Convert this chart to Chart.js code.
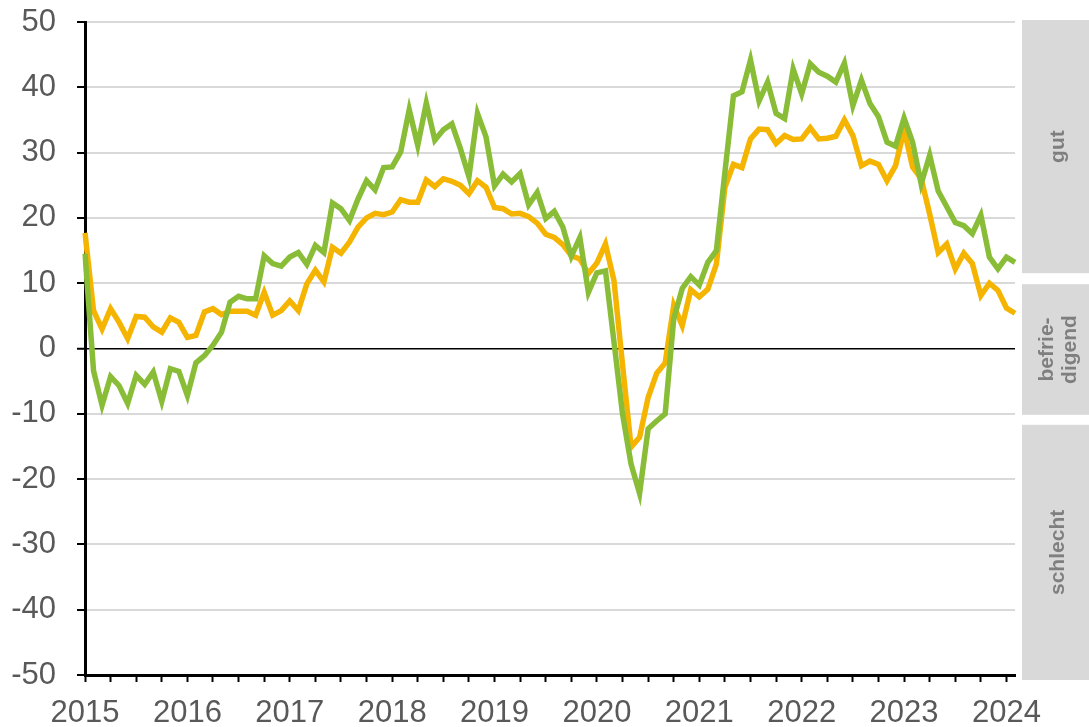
<!DOCTYPE html>
<html>
<head>
<meta charset="utf-8">
<script src="https://cdn.jsdelivr.net/npm/chart.js@4.4.1/dist/chart.umd.min.js"></script>
<style>
  body { margin: 0; background: #fff; }
  #wrap { width: 1089px; height: 727px; position: relative; }
</style>
</head>
<body>
<div id="wrap"><canvas id="myChart"></canvas></div>
<script>
// monthly values Jan 2015 - Feb 2024
var yearLabels = ['2015', '2016', '2017', '2018', '2019', '2020', '2021', '2022', '2023', '2024'];

var orangeData = [
  17.7, 5.8, 3.0, 6.1, 4.0, 1.5, 4.9, 4.8, 3.3, 2.5, 4.7, 4.0,
  1.7, 2.0, 5.6, 6.1, 5.2, 5.7, 5.7, 5.7, 5.1, 8.6, 5.1, 5.8,
  7.3, 5.8, 9.9, 12.0, 10.2, 15.5, 14.6, 16.3, 18.6, 20.0, 20.7, 20.5,
  20.9, 22.8, 22.4, 22.4, 25.8, 24.8, 26.0, 25.6, 25.0, 23.7, 25.7, 24.7,
  21.6, 21.4, 20.6, 20.7, 20.2, 19.2, 17.5, 17.0, 15.9, 14.2, 13.7, 11.5,
  13.1, 16.0, 10.4, -2.5, -15.1, -13.6, -7.5, -3.8, -2.2, 6.6, 3.5, 9.0,
  7.9, 9.1, 12.9, 24.7, 28.2, 27.7, 32.1, 33.6, 33.5, 31.4, 32.6, 32.0,
  32.1, 33.8, 32.1, 32.2, 32.5, 35.0, 32.6, 28.0, 28.7, 28.2, 25.7, 28.0,
  33.5, 27.8, 26.0, 20.6, 14.7, 16.0, 12.2, 14.6, 13.0, 8.1, 10.0, 8.9,
  6.2, 5.4
];

var greenData = [
  14.5, -3.4, -8.7, -4.3, -5.7, -8.4, -4.1, -5.5, -3.6, -8.1, -3.1, -3.5,
  -7.2, -2.2, -1.1, 0.5, 2.5, 7.1, 8.0, 7.6, 7.6, 14.2, 13.0, 12.6,
  14.0, 14.7, 12.9, 15.8, 14.7, 22.3, 21.4, 19.6, 22.9, 25.7, 24.3, 27.7,
  27.8, 30.1, 36.6, 31.1, 37.6, 31.9, 33.5, 34.4, 30.6, 26.3, 36.0, 32.4,
  24.9, 26.7, 25.5, 26.8, 22.0, 23.9, 19.9, 21.0, 18.6, 14.1, 17.0, 8.6,
  11.6, 11.9, 1.0, -10.0, -17.7, -22.2, -12.3, -11.1, -10.0, 4.5, 9.2, 11.0,
  9.7, 13.2, 15.0, 27.0, 38.7, 39.3, 44.2, 37.9, 40.8, 36.0, 35.2, 42.8,
  39.0, 43.6, 42.3, 41.7, 40.8, 43.7, 37.2, 41.1, 37.5, 35.5, 31.6, 31.0,
  35.3, 31.6, 25.2, 29.6, 24.1, 21.7, 19.3, 18.8, 17.6, 20.4, 14.0, 12.2,
  14.0, 13.2
];

var bandLabels = [['gut'], ['befrie-', 'digend'], ['schlecht']];
var bandFrom = [10, -10, -50];
var bandTo = [50, 10, -10];

var monthLabels = [];
yearLabels.forEach(function (yr) {
  for (var m = 1; m <= 12; m++) {
    if (monthLabels.length < greenData.length) {
      monthLabels.push(yr + '-' + (m < 10 ? '0' + m : m));
    }
  }
});

var fontName = '"Liberation Sans", Arial, sans-serif';

// grey boxes with the ratings on the right side
var bandPlugin = {
  id: 'bands',
  afterDraw: function (chart) {
    var c = chart.ctx;
    var ys = chart.scales.y;
    var x0 = chart.chartArea.right + 7;
    var x1 = chart.width;
    var tops = [ys.getPixelForValue(bandTo[0]) - 2, ys.getPixelForValue(bandTo[1]) + 1, ys.getPixelForValue(bandTo[2]) + 11];
    var bottoms = [ys.getPixelForValue(bandFrom[0]) - 10, ys.getPixelForValue(bandFrom[1]) + 1, ys.getPixelForValue(bandFrom[2]) + 5];
    c.save();
    for (var i = 0; i < bandLabels.length; i++) {
      c.fillStyle = '#d9d9d9';
      c.fillRect(x0, tops[i], x1 - x0, bottoms[i] - tops[i]);
      var cx = (x0 + x1) / 2 + 3;
      var cy = (tops[i] + bottoms[i]) / 2;
      c.save();
      c.translate(cx, cy);
      c.rotate(-Math.PI / 2);
      c.fillStyle = '#7f7f7f';
      c.font = 'bold 21px ' + fontName;
      c.textAlign = 'center';
      c.textBaseline = 'middle';
      var lines = bandLabels[i];
      var lh = 23;
      lines.forEach(function (t, k) {
        c.fillText(t, 0, (k - (lines.length - 1) / 2) * lh);
      });
      c.restore();
    }
    c.restore();
  }
};

var ctx = document.getElementById('myChart').getContext('2d');
var myChart = new Chart(ctx, {
  type: 'line',
  data: {
    labels: monthLabels,
    datasets: [{
      label: 'green',
      data: greenData,
      borderColor: '#8abd37',
      borderWidth: 5.5,
      pointRadius: 0,
      tension: 0,
      order: 0
    }, {
      label: 'orange',
      data: orangeData,
      borderColor: '#f4b400',
      borderWidth: 5.5,
      pointRadius: 0,
      tension: 0,
      order: 1
    }]
  },
  options: {
    responsive: true,
    maintainAspectRatio: false,
    animation: false,
    layout: { padding: { left: 0, right: 74, top: 22, bottom: 0 } },
    plugins: {
      legend: { display: false },
      tooltip: { enabled: false }
    },
    scales: {
      x: {
        offset: false,
        afterBuildTicks: function (scale) {
          scale.ticks = scale.ticks.filter(function (t) { return t.value % 3 === 0; });
        },
        afterFit: function (scale) {
          scale.height = 52;
        },
        ticks: {
          autoSkip: false,
          maxRotation: 0,
          padding: 13,
          color: '#595959',
          font: { family: fontName, size: 31 },
          callback: function (val) {
            return val % 12 === 0 ? yearLabels[val / 12] : '';
          }
        },
        grid: {
          drawOnChartArea: false,
          drawTicks: true,
          tickLength: 7,
          tickColor: '#000',
          tickWidth: 2
        },
        border: { color: '#000', width: 3 }
      },
      y: {
        min: -50,
        max: 50,
        afterFit: function (scale) {
          scale.width = 85;
          scale.paddingTop = 0;
          scale.paddingBottom = 0;
        },
        ticks: {
          stepSize: 10,
          padding: 21,
          color: '#595959',
          font: { family: fontName, size: 31 }
        },
        grid: {
          tickLength: 8,
          tickColor: '#000',
          tickWidth: 2,
          color: function (c) {
            if (c.tick && c.tick.value === 0) return '#000';
            return '#d9d9d9';
          },
          lineWidth: function (c) {
            if (c.tick && c.tick.value === 0) return 1.5;
            return 2;
          }
        },
        border: { color: '#000', width: 3 }
      }
    }
  },
  plugins: [bandPlugin]
});
</script>
</body>
</html>
